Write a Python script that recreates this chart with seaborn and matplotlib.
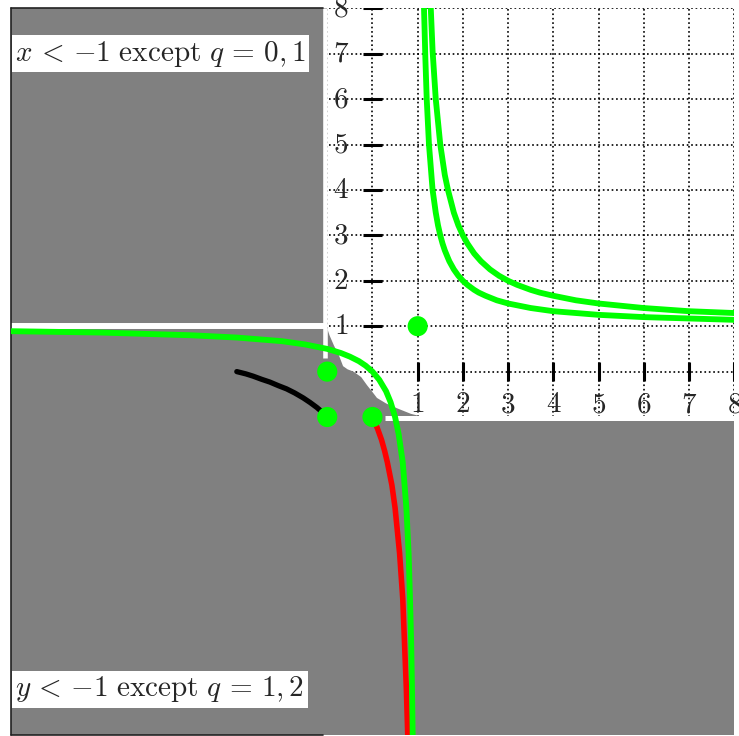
import matplotlib
matplotlib.use('Agg')
import matplotlib.pyplot as plt
import seaborn as sns
from matplotlib.patches import Rectangle, Polygon

# curves
inner_x = [1.14, 1.17, 1.2, 1.25, 1.33, 1.4, 1.45, 1.5, 1.55, 1.6, 1.67, 1.7, 1.8, 1.9, 2.0, 2.1, 2.25,
           2.35, 2.5, 2.75, 3.0, 3.5, 4.0, 5.0, 6.0, 7.0, 8.0]
inner_y = [8.0, 6.9, 6.0, 5.0, 4.0, 3.5, 3.22, 3.0, 2.82, 2.67, 2.5, 2.43, 2.25, 2.11, 2.0, 1.91, 1.8,
           1.74, 1.67, 1.57, 1.5, 1.4, 1.33, 1.25, 1.2, 1.17, 1.14]

outer_x = [1.29, 1.33, 1.4, 1.5, 1.6, 1.67, 1.8, 1.9, 2.0, 2.1, 2.25, 2.4, 2.6, 2.8, 3.0, 3.2, 3.5,
           3.7, 4.0, 4.5, 5.0, 6.0, 7.0, 8.0]
outer_y = [8.0, 7.06, 6.0, 5.0, 4.33, 4.0, 3.5, 3.22, 3.0, 2.82, 2.6, 2.43, 2.25, 2.11, 2.0, 1.91, 1.8,
           1.74, 1.67, 1.57, 1.5, 1.4, 1.33, 1.29]

lower_x = [-8.0, -6.0, -4.0, -3.0, -2.0, -1.5, -1.0, -0.7, -0.5, -0.3, -0.15, 0.0, 0.15, 0.3, 0.4,
           0.5, 0.58, 0.67, 0.75, 0.8, 0.83, 0.857, 0.875, 0.889]
lower_y = [0.89, 0.86, 0.8, 0.75, 0.67, 0.6, 0.5, 0.41, 0.33, 0.23, 0.13, 0.0, -0.18, -0.43, -0.67,
           -1.0, -1.38, -2.0, -3.0, -4.0, -5.0, -6.0, -7.0, -8.0]

red_x = [0.0, 0.11, 0.2, 0.27, 0.33, 0.43, 0.5, 0.6, 0.67, 0.71, 0.75, 0.78]
red_y = [-1.0, -1.25, -1.5, -1.75, -2.0, -2.5, -3.0, -4.0, -5.0, -6.0, -7.0, -8.0]

black_x = [-3.0, -2.8, -2.64, -2.45, -2.27, -2.08, -1.9, -1.72, -1.53, -1.38, -1.23, -1.1, -1.0]
black_y = [0.0, -0.05, -0.1, -0.17, -0.23, -0.31, -0.38, -0.47, -0.58, -0.68, -0.79, -0.9, -1.0]

dots_x = [1, -1, -1, 0]
dots_y = [1, 0, -1, -1]

# edge of the grey patch between (-1,1) and (1,-1)
edge_x = [-1.0, -0.95, -0.85, -0.75, -0.65, -0.55, -0.42, -0.25, -0.12, 0.0, 0.1, 0.3, 0.55, 0.85, 1.05]
edge_y = [0.95, 0.8, 0.57, 0.38, 0.12, 0.05, 0.0, -0.12, -0.3, -0.45, -0.58, -0.7, -0.81, -0.93, -0.98]

tick_values = [1, 2, 3, 4, 5, 6, 7, 8]
tick_labels = ['1', '2', '3', '4', '5', '6', '7', '8']

top_note = r'$x\,<\,{-1}\ \mathrm{except}\ q\,=\,0,1$'
bottom_note = r'$y\,<\,{-1}\ \mathrm{except}\ q\,=\,1,2$'

sns.set_style('white')
plt.rcParams['mathtext.fontset'] = 'cm'
plt.rcParams['font.family'] = ['DejaVu Sans']

GREY = '#808080'
GREEN = '#00ff00'

fig = plt.figure(figsize=(7.39, 7.36), dpi=100)
ax = fig.add_axes([0.0145, 0.0015, 0.979, 0.9872])
ax.set_xlim(-8, 8)
ax.set_ylim(-8, 8)

# dotted grid over the whole square
for v in range(-8, 9):
    ax.axvline(v, color='k', ls=':', lw=1.2, zorder=0)
    ax.axhline(v, color='k', ls=':', lw=1.2, zorder=0)

# grey regions
ax.add_patch(Rectangle((-8, -8), 7, 16, facecolor=GREY, edgecolor='none', zorder=1))
ax.add_patch(Rectangle((-8, -8), 16, 7, facecolor=GREY, edgecolor='none', zorder=1))
poly = list(zip(edge_x, edge_y)) + [(1.05, -1.1), (-1.1, -1.1), (-1.1, 0.95)]
ax.add_patch(Polygon(poly, closed=True, facecolor=GREY, edgecolor='none', zorder=1))

# white gaps
ax.plot([-8, -1.0], [1.0, 1.0], color='white', lw=4.3, solid_capstyle='butt', zorder=2)
ax.plot([-1.05, -1.05], [0.3, 8], color='white', lw=3.3, solid_capstyle='butt', zorder=2)
ax.plot([0.28, 8], [-1.03, -1.03], color='white', lw=3.6, solid_capstyle='butt', zorder=2)

# dark frame around the left block
ax.plot([-8, -8], [-8, 8], color='#222222', lw=1.2, zorder=2, clip_on=False)
ax.plot([-8, -1.1], [8, 8], color='#222222', lw=1.2, zorder=2, clip_on=False)
ax.plot([-8, -1.1], [-8, -8], color='#222222', lw=1.2, zorder=2, clip_on=False)

# axis ticks
for v in tick_values:
    ax.plot([-0.21, 0.21], [v, v], color='k', lw=2.2, solid_capstyle='butt', zorder=3)
    ax.plot([v, v], [-0.21, 0.21], color='k', lw=2.2, solid_capstyle='butt', zorder=3)
for v, lab in zip(tick_values, tick_labels):
    ax.text(-0.7, v, '$' + lab + '$', fontsize=21, ha='center', va='center', zorder=3)
    ax.text(v, -0.72, '$' + lab + '$', fontsize=21, ha='center', va='center', zorder=3)

# curves
sns.lineplot(x=inner_x, y=inner_y, sort=False, estimator=None, color=GREEN, lw=4.2, ax=ax, zorder=4)
sns.lineplot(x=outer_x, y=outer_y, sort=False, estimator=None, color=GREEN, lw=4.2, ax=ax, zorder=4)
sns.lineplot(x=red_x, y=red_y, sort=False, estimator=None, color='red', lw=4.0, ax=ax, zorder=4)
sns.lineplot(x=lower_x, y=lower_y, sort=False, estimator=None, color=GREEN, lw=4.2, ax=ax, zorder=4)
sns.lineplot(x=black_x, y=black_y, sort=False, estimator=None, color='black', lw=3.8, ax=ax, zorder=4)
sns.scatterplot(x=dots_x, y=dots_y, color=GREEN, s=210, edgecolor='none', ax=ax, zorder=5)

box = dict(boxstyle='square,pad=0.12', facecolor='white', edgecolor='none')
ax.text(-7.9, 7.0, top_note, fontsize=21, ha='left', va='center', bbox=box, zorder=6)
ax.text(-7.9, -7.0, bottom_note, fontsize=21, ha='left', va='center', bbox=box, zorder=6)

ax.set_xlim(-8, 8)
ax.set_ylim(-8, 8)
ax.set_axis_off()
fig.savefig('out.png', dpi=100)
